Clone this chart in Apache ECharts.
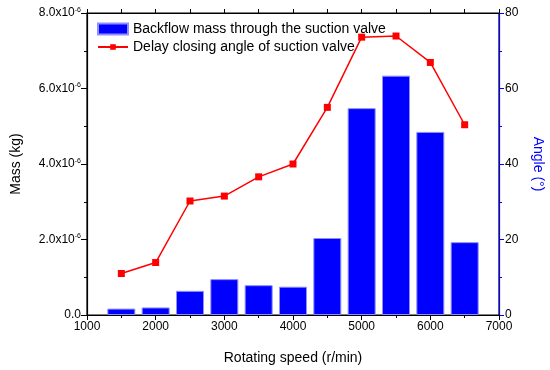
<!DOCTYPE html>
<html>
<head>
<meta charset="utf-8">
<script src="https://cdn.jsdelivr.net/npm/echarts@6/dist/echarts.min.js"></script>
<style>html,body{margin:0;padding:0;background:#fff}#c{width:550px;height:370px}</style>
</head>
<body>
<div id="c"></div>
<script>
const speeds = [1500, 2000, 2500, 3000, 3500, 4000, 4500, 5000, 5500, 6000, 6500];
const backflowMass = [0.17e-6, 0.20e-6, 0.64e-6, 0.95e-6, 0.79e-6, 0.75e-6, 2.04e-6, 5.48e-6, 6.34e-6, 4.85e-6, 1.93e-6];
const delayAngle = [11.0, 13.9, 30.2, 31.5, 36.6, 40.0, 55.0, 73.6, 73.9, 66.9, 50.4];
const xTicks = [1000, 2000, 3000, 4000, 5000, 6000, 7000];
const massTicks = [0, 2e-6, 4e-6, 6e-6, 8e-6];
const angleTicks = [0, 20, 40, 60, 80];

const font = 'Arial, "Liberation Sans", sans-serif';
const chart = echarts.init(document.getElementById('c'), null, {renderer: 'canvas'});
chart.setOption({
  animation: false,
  grid: {left: 87, right: 51, top: 13, bottom: 55, containLabel: false, outerBoundsMode: 'none', show: true,
         borderColor: '#000', borderWidth: 1.2, backgroundColor: 'transparent'},
  legend: [
    {data: [{name: 'Backflow mass through the suction valve', icon: 'rect'}], left: 97, top: 22, padding: 0,
     itemWidth: 30, itemHeight: 11, itemGap: 4,
     textStyle: {fontFamily: font, fontSize: 14, color: '#000'}, selectedMode: false},
    {data: ['Delay closing angle of suction valve'], left: 97, top: 40, padding: 0,
     itemWidth: 30, itemHeight: 7, itemGap: 4,
     textStyle: {fontFamily: font, fontSize: 14, color: '#000'}, selectedMode: false}
  ],
  xAxis: [
    {type: 'value', position: 'bottom', min: xTicks[0], max: xTicks[xTicks.length - 1], interval: 1000,
     name: 'Rotating speed (r/min)', nameLocation: 'middle', nameGap: 36,
     nameTextStyle: {fontFamily: font, fontSize: 14, color: '#000'},
     axisLine: {lineStyle: {color: '#000', width: 1.2}},
     axisTick: {show: true, inside: false, length: 5, lineStyle: {color: '#000'}},
     minorTick: {show: true, splitNumber: 2, length: 3, lineStyle: {color: '#000'}},
     axisLabel: {fontFamily: font, fontSize: 12, color: '#000', margin: 6, formatter: v => String(v)},
     splitLine: {show: false}},
    {type: 'value', position: 'top', min: xTicks[0], max: xTicks[xTicks.length - 1], interval: 500,
     axisLine: {show: true, onZero: false, lineStyle: {color: '#000', width: 1.2}},
     axisTick: {show: true, inside: false, length: 4, lineStyle: {color: '#000'}},
     axisLabel: {show: false}, splitLine: {show: false}}
  ],
  yAxis: [
    {type: 'value', position: 'left', min: 0, max: 8e-6, interval: 2e-6,
     name: 'Mass (kg)', nameLocation: 'middle', nameGap: 64, nameRotate: 90,
     nameTextStyle: {fontFamily: font, fontSize: 14, color: '#000'},
     axisLine: {show: true, lineStyle: {color: '#000', width: 1.2}},
     axisTick: {show: true, inside: false, length: 6, lineStyle: {color: '#000'}},
     minorTick: {show: true, splitNumber: 2, length: 3, lineStyle: {color: '#000'}},
     axisLabel: {fontFamily: font, fontSize: 12, color: '#000', margin: 6,
       formatter: function (v) {
         if (Math.abs(v) < 1e-12) return '0.0';
         return (v * 1e6).toFixed(1) + 'x10{sup|-6}';
       },
       rich: {sup: {fontSize: 7, verticalAlign: 'top', padding: [0, 0, 6, 0], fontFamily: font, color: '#000'}}},
     splitLine: {show: false}},
    {type: 'value', position: 'right', min: 0, max: 80, interval: 20,
     name: 'Angle (°)', nameLocation: 'middle', nameGap: 32, nameRotate: -90,
     nameTextStyle: {fontFamily: font, fontSize: 14, color: '#0000ff'},
     axisLine: {show: true, lineStyle: {color: '#0000ff', width: 1.2}},
     axisTick: {show: true, inside: false, length: 5, lineStyle: {color: '#0000ff'}},
     minorTick: {show: true, splitNumber: 2, length: 3, lineStyle: {color: '#0000ff'}},
     axisLabel: {fontFamily: font, fontSize: 12, color: '#000', margin: 6},
     splitLine: {show: false}}
  ],
  series: [
    {name: 'Backflow mass through the suction valve', type: 'bar', xAxisIndex: 0, yAxisIndex: 0,
     barWidth: 28,
     itemStyle: {color: '#0000ff', borderColor: '#8f8fff', borderWidth: 1},
     data: speeds.map((s, i) => [s, backflowMass[i]])},
    {name: 'Delay closing angle of suction valve', type: 'line', xAxisIndex: 0, yAxisIndex: 1,
     symbol: 'rect', symbolSize: 7,
     lineStyle: {color: '#ff0000', width: 1.5},
     itemStyle: {color: '#ff0000'},
     data: speeds.map((s, i) => [s, delayAngle[i]])},
    {name: 'topAxisHolder', type: 'line', xAxisIndex: 1, yAxisIndex: 0, data: [], silent: true}
  ]
});
</script>
</body>
</html>
